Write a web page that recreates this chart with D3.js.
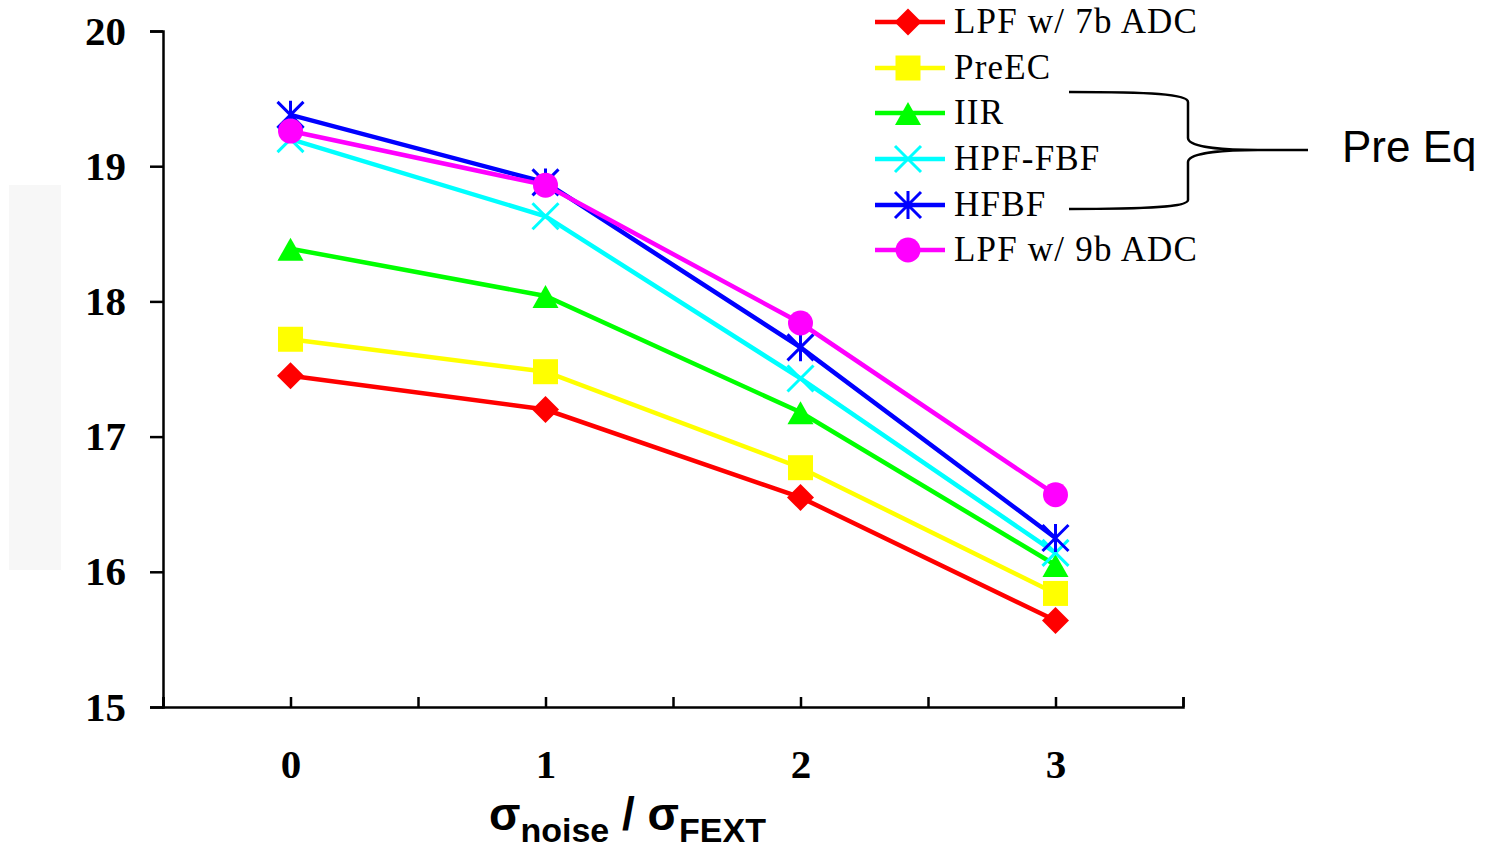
<!DOCTYPE html>
<html>
<head>
<meta charset="utf-8">
<script src="https://cdn.jsdelivr.net/npm/d3@7"></script>
<style>
  body { margin: 0; background: #fff; }
  svg { display: block; }
</style>
</head>
<body>
<div id="chart"></div>
<script>
// data
const xValues = [0, 1, 2, 3];
const seriesNames = ["LPF w/ 7b ADC", "PreEC", "IIR", "HPF-FBF", "HFBF", "LPF w/ 9b ADC"];
const lpf7b  = [17.45, 17.20, 16.55, 15.64];
const preEC  = [17.72, 17.48, 16.77, 15.84];
const iir    = [18.39, 18.04, 17.18, 16.05];
const hpfFbf = [19.20, 18.63, 17.43, 16.14];
const hfbf   = [19.38, 18.88, 17.66, 16.25];
const lpf9b  = [19.26, 18.86, 17.84, 16.57];
const yTicks = [15, 16, 17, 18, 19, 20];
const bracketLabel = "Pre Eq";

const seriesValues = [lpf7b, preEC, iir, hpfFbf, hfbf, lpf9b];
const colors = ["#ff0000", "#ffff00", "#00ff00", "#00ffff", "#0000ff", "#ff00ff"];
const markers = ["diamond", "square", "triangle", "x", "star", "circle"];

const W = 1497, H = 848;
const svg = d3.select("#chart").append("svg")
    .attr("width", W)
    .attr("height", H);

// faint grey block at the left edge
svg.append("rect")
    .attr("x", 9).attr("y", 185)
    .attr("width", 52).attr("height", 385)
    .attr("fill", "#f7f7f7");

const x = d3.scaleLinear().domain([-0.5, 3.5]).range([163, 1183]);
const y = d3.scaleLinear().domain([15, 20]).range([707, 31]);

const serif = "'Liberation Serif', 'Times New Roman', serif";
const sans = "'Liberation Sans', Arial, sans-serif";

// y axis
let yAxis = svg.append("g")
    .attr("transform", "translate(163,0)")
    .call(d3.axisLeft(y).tickValues(yTicks).tickSize(13).tickPadding(24).tickFormat(d3.format("d")));
yAxis.selectAll("text")
    .attr("font-family", serif).attr("font-weight", "bold")
    .attr("font-size", 41).attr("fill", "#000");

// x axis: small inward ticks every half step
let xTickVals = d3.range(-0.5, 3.51, 0.5);
let xAxis = svg.append("g")
    .attr("transform", "translate(0,707)")
    .call(d3.axisBottom(x).tickValues(xTickVals).tickSize(-10).tickFormat(""));

svg.append("g")
    .attr("transform", "translate(0,707)")
    .call(d3.axisBottom(x).tickValues(xValues).tickSize(0).tickPadding(42).tickFormat(d3.format("d")))
    .call(g => g.select(".domain").remove())
    .selectAll("text")
    .attr("font-family", serif).attr("font-weight", "bold")
    .attr("font-size", 41).attr("fill", "#000");

svg.selectAll(".domain, .tick line")
    .attr("stroke", "#000").attr("stroke-width", 2.5);

// x axis title: sigma_noise / sigma_FEXT
let title = svg.append("text")
    .attr("x", 489).attr("y", 830)
    .attr("font-family", sans).attr("font-weight", "bold")
    .attr("font-size", 46).attr("fill", "#000");
title.append("tspan").text("σ");
title.append("tspan").attr("dy", 12).attr("font-size", 34).text("noise");
title.append("tspan").attr("dy", -12).text(" / σ");
title.append("tspan").attr("dy", 12).attr("font-size", 34).text("FEXT");

function markerPath(type) {
    if (type === "diamond") return "M0,-13.5L13.5,0L0,13.5L-13.5,0Z";
    if (type === "square") return "M-12.5,-12.5H12.5V12.5H-12.5Z";
    if (type === "triangle") return "M0,-11L13,12L-13,12Z";
    if (type === "x") return "M-13,-13L13,13M-13,13L13,-13";
    if (type === "star") return "M-13,-13L13,13M-13,13L13,-13M0,-14V14";
    return d3.symbol().type(d3.symbolCircle).size(Math.PI * 12.5 * 12.5)();
}

function drawMarker(g, type, color) {
    let p = g.append("path").attr("d", markerPath(type));
    if (type === "x" || type === "star") {
        p.attr("fill", "none").attr("stroke", color).attr("stroke-width", 3);
    } else {
        p.attr("fill", color);
    }
}

const line = d3.line()
    .x(d => x(d.x))
    .y(d => y(d.v));

seriesValues.forEach((vals, i) => {
    let pts = vals.map((v, j) => ({x: xValues[j], v: v}));
    let g = svg.append("g").attr("class", "series");
    g.append("path")
        .datum(pts)
        .attr("d", line)
        .attr("fill", "none")
        .attr("stroke", colors[i])
        .attr("stroke-width", 4.5);
    pts.forEach(p => {
        let m = g.append("g").attr("transform", `translate(${x(p.x)},${y(p.v)})`);
        drawMarker(m, markers[i], colors[i]);
    });
});

// legend
const legendY = [22, 68, 113, 159, 205, 250];
seriesNames.forEach((name, i) => {
    let g = svg.append("g").attr("transform", `translate(0,${legendY[i]})`);
    g.append("line")
        .attr("x1", 875).attr("x2", 945)
        .attr("stroke", colors[i]).attr("stroke-width", 4.5);
    let m = g.append("g").attr("transform", "translate(908,0)");
    drawMarker(m, markers[i], colors[i]);
    g.append("text")
        .attr("x", 954).attr("y", 11)
        .attr("font-family", serif).attr("font-size", 35)
        .attr("letter-spacing", 1.2)
        .attr("fill", "#000")
        .text(name);
});

// bracket for the pre-equalizer group
svg.append("path")
    .attr("d", "M1069,92 C1150,92 1188,94 1188,102 V138 C1188,148 1230,150 1258,150 H1308 " +
               "M1258,150 C1230,150 1188,152 1188,162 V200 C1188,207 1150,209 1069,209")
    .attr("fill", "none").attr("stroke", "#000").attr("stroke-width", 2.5);

svg.append("text")
    .attr("x", 1342).attr("y", 162)
    .attr("font-family", sans).attr("font-size", 44)
    .attr("fill", "#000")
    .text(bracketLabel);
</script>
</body>
</html>
